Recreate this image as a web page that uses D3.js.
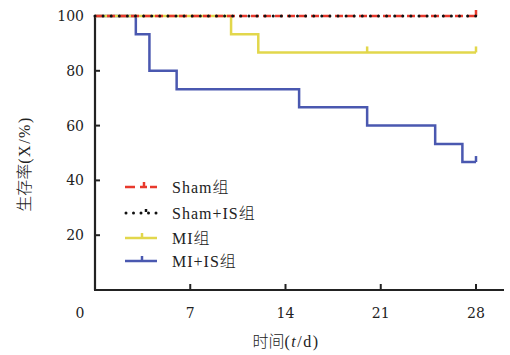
<!DOCTYPE html>
<html><head><meta charset="utf-8">
<script src="https://cdn.jsdelivr.net/npm/d3@7"></script>
<style>body{margin:0;background:#fff}svg{display:block}</style>
</head><body>
<svg id="c" width="510" height="355"></svg>
<script>
const xTicks = [7, 14, 21, 28];
const yTicks = [20, 40, 60, 80, 100];
const shamT = [0, 28], shamV = [100, 100], shamCensor = [28];
const shamIST = [0, 28], shamISV = [100, 100];
const miT = [0, 10, 12, 28], miV = [100, 93.3, 86.7, 86.7], miCensor = [20, 28];
const miIST = [0, 3, 4, 6, 15, 20, 25, 27, 28];
const miISV = [100, 93.3, 80, 73.3, 66.7, 60, 53.3, 46.7, 46.7], miISCensor = [28];
const legendLabels = ["Sham组", "Sham+IS组", "MI组", "MI+IS组"];

const svg = d3.select("#c");
const x = d3.scaleLinear().domain([0, 28]).range([95, 476]);
const y = d3.scaleLinear().domain([0, 100]).range([290, 16]);
const serif = "'DejaVu Serif',serif";
const lserif = "'Liberation Serif','Noto Sans CJK SC',serif";
const axisColor = "#222";

// axes
svg.append("line").attr("x1", x(0)).attr("x2", x(0)).attr("y1", y(100) - 1).attr("y2", y(0))
  .attr("stroke", axisColor).attr("stroke-width", 2.2);
svg.append("line").attr("x1", x(0) - 1).attr("x2", 504).attr("y1", y(0)).attr("y2", y(0))
  .attr("stroke", axisColor).attr("stroke-width", 2.2);
yTicks.forEach(t => {
  svg.append("line").attr("x1", x(0)).attr("x2", x(0) + 5).attr("y1", y(t)).attr("y2", y(t))
    .attr("stroke", axisColor).attr("stroke-width", 2);
  svg.append("text").attr("x", 84).attr("y", y(t) + 5).attr("text-anchor", "end")
    .attr("font-family", serif).attr("font-size", 14).attr("fill", "#222").text(t);
});
xTicks.forEach(t => {
  svg.append("line").attr("x1", x(t)).attr("x2", x(t)).attr("y1", y(0)).attr("y2", y(0) - 6)
    .attr("stroke", axisColor).attr("stroke-width", 2);
  svg.append("text").attr("x", x(t)).attr("y", 318).attr("text-anchor", "middle")
    .attr("font-family", serif).attr("font-size", 14).attr("fill", "#222").text(t);
});
svg.append("text").attr("x", 80).attr("y", 318).attr("text-anchor", "middle")
  .attr("font-family", serif).attr("font-size", 14).attr("fill", "#222").text(0);

// axis titles
const xt = svg.append("text").attr("x", 286).attr("y", 347).attr("text-anchor", "middle")
  .attr("font-size", 16).attr("fill", "#222").attr("font-family", lserif).attr("letter-spacing", 1.5);
xt.append("tspan").attr("font-family", "'Noto Sans CJK SC'").attr("font-weight", 300).attr("letter-spacing", 0).text("时间");
xt.append("tspan").text("(");
xt.append("tspan").attr("font-style", "italic").text("t");
xt.append("tspan").text("/d)");
const yt = svg.append("text").attr("transform", "translate(30,164) rotate(-90)").attr("text-anchor", "middle")
  .attr("font-size", 16).attr("fill", "#222").attr("font-family", lserif).attr("letter-spacing", 1.5);
yt.append("tspan").attr("font-family", "'Noto Sans CJK SC'").attr("font-weight", 300).attr("letter-spacing", 0).text("生存率");
yt.append("tspan").text("(X/%)");

const line = d3.line().x(d => x(d[0])).y(d => y(d[1])).curve(d3.curveStepAfter);
const zip = (T, V) => T.map((t, i) => [t, V[i]]);
const at = (T, V, t) => { let v = V[0]; T.forEach((tt, i) => { if (tt <= t) v = V[i]; }); return v; };

const red = "#e8392c", yellow = "#e2d74c", blue = "#4a58b0", black = "#111";

// MI+IS
svg.append("path").attr("d", line(zip(miIST, miISV))).attr("fill", "none").attr("stroke", blue).attr("stroke-width", 2.5);
miISCensor.forEach(t => svg.append("line").attr("x1", x(t)).attr("x2", x(t)).attr("y1", y(at(miIST, miISV, t))).attr("y2", y(at(miIST, miISV, t)) - 6).attr("stroke", blue).attr("stroke-width", 2.5));
// MI
svg.append("path").attr("d", line(zip(miT, miV))).attr("fill", "none").attr("stroke", yellow).attr("stroke-width", 2.5);
miCensor.forEach(t => svg.append("line").attr("x1", x(t)).attr("x2", x(t)).attr("y1", y(at(miT, miV, t))).attr("y2", y(at(miT, miV, t)) - 6).attr("stroke", yellow).attr("stroke-width", 2.5));
// Sham
svg.append("path").attr("d", line(zip(shamT, shamV))).attr("fill", "none").attr("stroke", red).attr("stroke-width", 2.5).attr("stroke-dasharray", "8 4");
shamCensor.forEach(t => svg.append("line").attr("x1", x(t)).attr("x2", x(t)).attr("y1", y(100)).attr("y2", y(100) - 6).attr("stroke", red).attr("stroke-width", 2.5));
// Sham+IS
svg.append("path").attr("d", line(zip(shamIST, shamISV))).attr("fill", "none").attr("stroke", black).attr("stroke-width", 3)
  .attr("stroke-linecap", "round").attr("stroke-dasharray", "0 8.1");

// legend
const lx1 = 125, lx2 = 157, tickX = 142, ly = [187, 213, 238, 261];
const lg = svg.append("g");
// Sham
lg.append("line").attr("x1", lx1).attr("x2", lx2).attr("y1", ly[0]).attr("y2", ly[0]).attr("stroke", red).attr("stroke-width", 2.5).attr("stroke-dasharray", "10 5 7 3");
lg.append("line").attr("x1", tickX + 2).attr("x2", tickX + 2).attr("y1", ly[0] - 5).attr("y2", ly[0]).attr("stroke", red).attr("stroke-width", 2.5);
// Sham+IS
lg.append("line").attr("x1", lx1 + 1).attr("x2", lx2).attr("y1", ly[1]).attr("y2", ly[1]).attr("stroke", black).attr("stroke-width", 3).attr("stroke-linecap", "round").attr("stroke-dasharray", "0 7.5");
lg.append("line").attr("x1", tickX + 4).attr("x2", tickX + 4).attr("y1", ly[1] - 4).attr("y2", ly[1] - 1).attr("stroke", black).attr("stroke-width", 2.5);
// MI
lg.append("line").attr("x1", lx1).attr("x2", lx2).attr("y1", ly[2]).attr("y2", ly[2]).attr("stroke", yellow).attr("stroke-width", 2.5);
lg.append("line").attr("x1", tickX).attr("x2", tickX).attr("y1", ly[2] - 5).attr("y2", ly[2]).attr("stroke", yellow).attr("stroke-width", 2.5);
// MI+IS
lg.append("line").attr("x1", lx1).attr("x2", lx2).attr("y1", ly[3]).attr("y2", ly[3]).attr("stroke", blue).attr("stroke-width", 2.5);
lg.append("line").attr("x1", tickX).attr("x2", tickX).attr("y1", ly[3] - 5).attr("y2", ly[3]).attr("stroke", blue).attr("stroke-width", 2.5);
legendLabels.forEach((s, i) => {
  const t = lg.append("text").attr("x", 172).attr("y", ly[i] + 6).attr("font-family", lserif).attr("letter-spacing", 1).attr("font-size", 16).attr("fill", "#222");
  t.append("tspan").text(s.slice(0, -1));
  t.append("tspan").attr("font-family", "'Noto Sans CJK SC'").attr("font-weight", 300).text(s.slice(-1));
});
</script>
</body></html>
